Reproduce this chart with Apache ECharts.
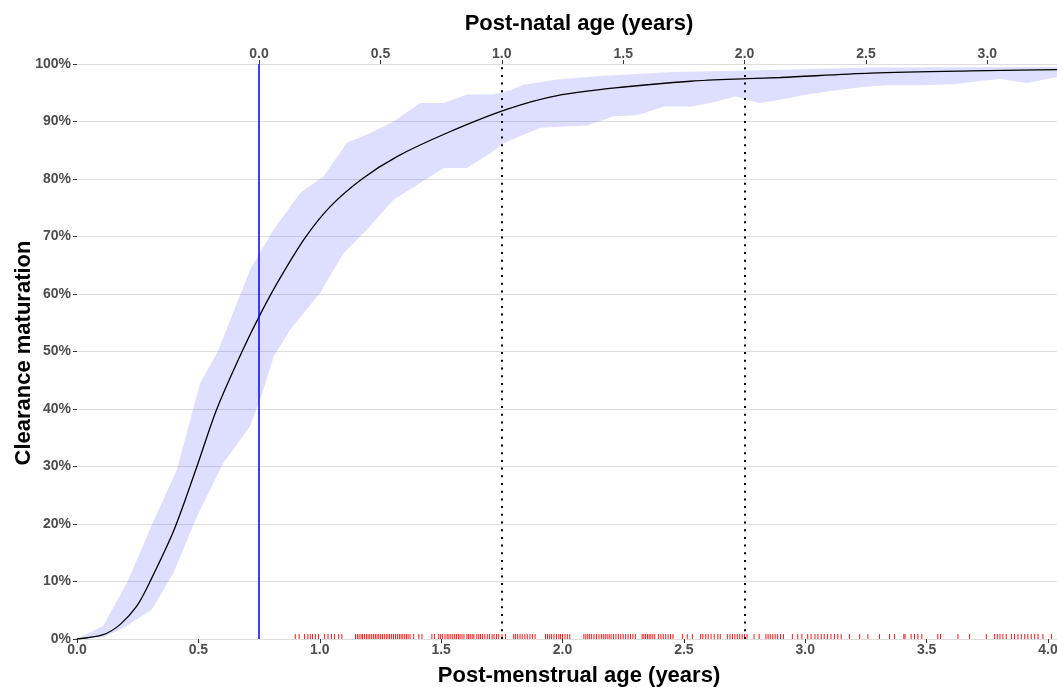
<!DOCTYPE html>
<html>
<head>
<meta charset="utf-8">
<script src="https://cdn.jsdelivr.net/npm/echarts@6/dist/echarts.min.js"></script>
<style>
html,body{margin:0;padding:0;background:#fff;}
#chart{width:1057px;height:687px;}
</style>
</head>
<body>
<div id="chart"></div>
<script>
// Median maturation curve (post-menstrual age in years, fraction)
const medianX = [0, 0.108, 0.177, 0.246, 0.301, 0.400, 0.494, 0.576, 0.680, 0.759, 0.837, 0.940, 1.043, 1.174, 1.318, 1.524, 1.770, 1.978, 2.253, 2.528, 2.762, 2.899, 3.270, 3.682, 4.14];
const medianY = [0, 0.0075, 0.025, 0.057, 0.100, 0.190, 0.300, 0.400, 0.500, 0.568, 0.628, 0.698, 0.752, 0.800, 0.839, 0.880, 0.921, 0.945, 0.960, 0.970, 0.9745, 0.9765, 0.984, 0.988, 0.991];

// Upper band edge
const upperX = [0, 0.108, 0.205, 0.315, 0.411, 0.507, 0.580, 0.713, 0.810, 0.920, 1.016, 1.112, 1.208, 1.304, 1.414, 1.511, 1.607, 1.717, 1.786, 1.840, 1.978, 2.184, 2.459, 2.899, 3.270, 4.14];
const upperY = [0, 0.023, 0.097, 0.205, 0.294, 0.445, 0.500, 0.642, 0.712, 0.776, 0.805, 0.863, 0.880, 0.900, 0.932, 0.932, 0.947, 0.947, 0.955, 0.964, 0.973, 0.980, 0.986, 0.990, 0.994, 0.995];

// Lower band edge
const lowerX = [0, 0.108, 0.191, 0.308, 0.397, 0.494, 0.603, 0.713, 0.761, 0.810, 0.878, 1.002, 1.098, 1.195, 1.304, 1.414, 1.511, 1.607, 1.703, 1.761, 1.909, 2.102, 2.212, 2.308, 2.418, 2.528, 2.610, 2.713, 2.762, 2.810, 2.858, 2.995, 3.133, 3.243, 3.339, 3.476, 3.614, 3.724, 3.806, 3.861, 3.916, 3.985, 4.040, 4.14];
const lowerY = [0, 0.003, 0.019, 0.051, 0.115, 0.213, 0.306, 0.370, 0.425, 0.491, 0.538, 0.602, 0.671, 0.712, 0.764, 0.793, 0.819, 0.819, 0.845, 0.863, 0.889, 0.893, 0.909, 0.911, 0.926, 0.926, 0.932, 0.944, 0.938, 0.932, 0.935, 0.946, 0.955, 0.960, 0.963, 0.963, 0.965, 0.971, 0.974, 0.970, 0.967, 0.973, 0.977, 0.979];

// Observed post-menstrual ages (rug)
const rugX = [
 0.899, 0.915, 0.937, 0.951, 0.961, 0.970, 0.982, 0.995, 1.020, 1.034, 1.048, 1.061, 1.078, 1.091,
 1.147, 1.155, 1.162, 1.170, 1.176, 1.184, 1.192, 1.199, 1.206, 1.214, 1.222, 1.229, 1.236, 1.243, 1.251, 1.258, 1.266, 1.274, 1.281, 1.288, 1.296, 1.304, 1.312, 1.320, 1.328, 1.335, 1.342, 1.350, 1.357, 1.364, 1.372,
 1.387, 1.408, 1.421, 1.462, 1.473,
 1.490, 1.497, 1.505, 1.516, 1.525, 1.532, 1.540, 1.548, 1.556, 1.563, 1.571, 1.578, 1.586, 1.594, 1.606, 1.613, 1.620, 1.628, 1.635, 1.647, 1.655, 1.662, 1.670, 1.680, 1.690, 1.699, 1.710, 1.718, 1.728, 1.737,
 1.751, 1.765,
 1.799, 1.806, 1.815, 1.825, 1.834, 1.845, 1.855, 1.866, 1.876, 1.887,
 1.930, 1.938, 1.947, 1.955, 1.965, 1.975, 1.985, 1.992, 2.000, 2.010, 2.020, 2.030,
 2.088, 2.096, 2.104, 2.112, 2.120, 2.130, 2.140, 2.150, 2.160, 2.168, 2.176, 2.184, 2.192, 2.200, 2.210, 2.220, 2.230, 2.240, 2.250, 2.260, 2.270, 2.280, 2.290, 2.300,
 2.328, 2.335, 2.342, 2.350, 2.357, 2.364, 2.372, 2.380, 2.395, 2.405, 2.415, 2.425, 2.435, 2.445, 2.455,
 2.494, 2.514, 2.535,
 2.569, 2.578, 2.590, 2.600, 2.612, 2.625, 2.640, 2.650,
 2.679, 2.690, 2.700, 2.710, 2.720, 2.730, 2.740, 2.750, 2.760,
 2.789, 2.810,
 2.838, 2.847, 2.856, 2.866, 2.876, 2.886, 2.898, 2.910,
 2.947, 2.969, 2.986,
 3.010, 3.024, 3.040, 3.052, 3.066, 3.078, 3.092, 3.106, 3.120, 3.134, 3.148,
 3.182, 3.224, 3.258, 3.306, 3.347, 3.368, 3.406, 3.411,
 3.436, 3.450, 3.464, 3.480, 3.546, 3.557, 3.629, 3.677, 3.746,
 3.780, 3.791, 3.802, 3.814, 3.828, 3.849, 3.862, 3.876, 3.890, 3.904, 3.917, 3.931, 3.945, 3.959, 3.979, 4.014
];

// Reference lines (post-menstrual age)
const birthPMA = 0.75;
const dottedPMA = [1.75, 2.75];

// Axis ticks
const topTickValues = [0, 0.5, 1.0, 1.5, 2.0, 2.5, 3.0];
const xMin = 0, xMax = 4.14, xInterval = 0.5;
const yMin = 0, yMax = 1, yInterval = 0.1;

const FONT = "'Liberation Sans', Arial, Helvetica, sans-serif";
const chart = echarts.init(document.getElementById('chart'), null, {renderer: 'canvas'});

const markLineData = [
  {xAxis: birthPMA, lineStyle: {color: '#0000ff', type: 'solid', width: 1.5}}
].concat(dottedPMA.map(v => ({xAxis: v, lineStyle: {color: '#000000', type: [2, 5.7], width: 2}})));

const option = {
  animation: false,
  backgroundColor: '#ffffff',
  textStyle: {fontFamily: FONT},
  grid: {left: 77, right: -25, top: 64, bottom: 48, containLabel: false, outerBoundsMode: 'none'},
  xAxis: [
    {
      type: 'value', position: 'bottom', min: xMin, max: xMax, interval: xInterval,
      axisLine: {show: false},
      axisTick: {show: true, length: 4, lineStyle: {color: '#333333', width: 1}},
      axisLabel: {show: true, margin: 4, color: '#4d4d4d', fontSize: 14, fontWeight: 'bold', fontFamily: FONT,
        showMaxLabel: false, formatter: v => v.toFixed(1)},
      splitLine: {show: false}
    },
    {
      type: 'value', position: 'top', min: xMin - birthPMA, max: xMax - birthPMA,
      axisLine: {show: false},
      axisTick: {show: true, length: 4, customValues: topTickValues, lineStyle: {color: '#333333', width: 1}},
      axisLabel: {show: true, margin: 3, color: '#4d4d4d', fontSize: 14, fontWeight: 'bold', fontFamily: FONT,
        customValues: topTickValues, formatter: v => v.toFixed(1)},
      splitLine: {show: false}
    }
  ],
  yAxis: {
    type: 'value', min: yMin, max: yMax, interval: yInterval,
    axisLine: {show: false},
    axisTick: {show: true, length: 4, lineStyle: {color: '#333333', width: 1}},
    axisLabel: {margin: 6, color: '#4d4d4d', fontSize: 14, fontWeight: 'bold', fontFamily: FONT,
      formatter: v => Math.round(v * 100) + '%'},
    splitLine: {show: true, lineStyle: {color: '#dedede', width: 1.2}}
  },
  graphic: [
    {type: 'text', x: 579, y: 24, style: {text: 'Post-natal age (years)', fill: '#000', font: "bold 22px 'Liberation Sans', Arial, sans-serif", textAlign: 'center', textVerticalAlign: 'middle'}},
    {type: 'text', x: 579, y: 676, style: {text: 'Post-menstrual age (years)', fill: '#000', font: "bold 22px 'Liberation Sans', Arial, sans-serif", textAlign: 'center', textVerticalAlign: 'middle'}},
    {type: 'text', x: 24, y: 353, rotation: Math.PI / 2, style: {text: 'Clearance maturation', fill: '#000', font: "bold 22px 'Liberation Sans', Arial, sans-serif", textAlign: 'center', textVerticalAlign: 'middle'}}
  ],
  series: [
    {
      type: 'custom', xAxisIndex: 0, yAxisIndex: 0, silent: true, z: 1,
      data: [[0, 0]],
      renderItem: function (params, api) {
        const pts = [];
        for (let i = 0; i < upperX.length; i++) pts.push(api.coord([upperX[i], upperY[i]]));
        for (let i = lowerX.length - 1; i >= 0; i--) pts.push(api.coord([lowerX[i], lowerY[i]]));
        return {type: 'polygon', shape: {points: pts}, style: {fill: 'rgba(0,0,255,0.13)', stroke: null}};
      }
    },
    {
      type: 'line', xAxisIndex: 0, yAxisIndex: 0, z: 3,
      data: medianX.map((x, i) => [x, medianY[i]]),
      showSymbol: false, smooth: 0.3,
      lineStyle: {color: '#000000', width: 1.3},
      markLine: {silent: true, symbol: ['none', 'none'], label: {show: false}, animation: false, data: markLineData}
    },
    {
      type: 'scatter', xAxisIndex: 0, yAxisIndex: 0, z: 4, silent: true,
      data: rugX.map(x => [x, 0]),
      symbol: 'rect', symbolSize: [1, 5], symbolOffset: [0, -2.5],
      itemStyle: {color: '#ff0000', opacity: 0.9}
    }
  ]
};
chart.setOption(option);
</script>
</body>
</html>
